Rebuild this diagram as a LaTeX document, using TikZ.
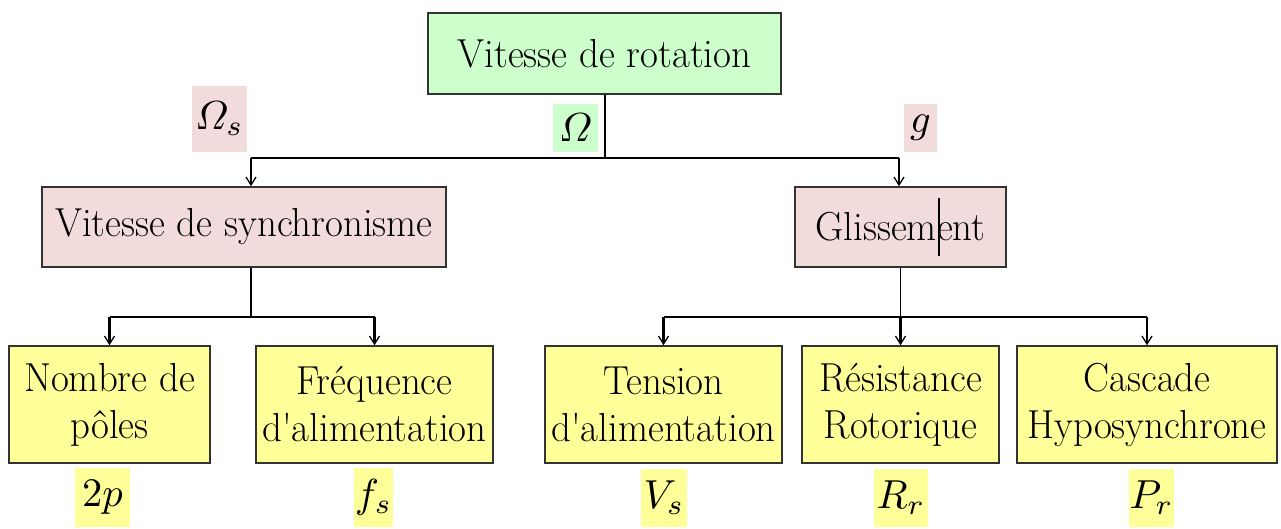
\documentclass[tikz,border=0pt]{standalone}
\usepackage{amsmath}
\usepackage{fontspec}
\usetikzlibrary{arrows.meta}
\definecolor{cgreen}{HTML}{CCFFCC}
\definecolor{cpink}{HTML}{F2DCDB}
\definecolor{cyellow}{HTML}{FFFF99}
\definecolor{cborder}{HTML}{333333}
\newcommand\nx[1]{\scalebox{0.96}[1]{#1}}
\newcommand\mlab[1]{\scalebox{4.05}{$#1$}}
\begin{document}
\begin{tikzpicture}[x=1pt,y=-1pt,
  box/.style={draw=cborder,line width=1.5pt,inner sep=0pt,align=center,
    font=\fontsize{40.5}{47}\selectfont},
  lbl/.style={inner sep=0pt},
  conn/.style={line width=1.4pt,black},
  arr/.style={line width=2.2pt,black,-{Straight Barb[length=8pt,width=10pt,line width=1.3pt]}}]
\useasboundingbox (0,0) rectangle (1281,529);
% boxes
\node[box,fill=cgreen,minimum width=353pt,minimum height=81pt] (top) at (604.5,53.5) {\nx{Vitesse de rotation}};
\node[box,fill=cpink,minimum width=404pt,minimum height=80pt] (vds) at (244,227) {\nx{Vitesse de synchronisme}};
\node[box,fill=cpink,minimum width=211pt,minimum height=80pt] (gl) at (900.5,227) {\nx{Glissement}};
\node[box,fill=cyellow,minimum width=201pt,minimum height=117pt] (nb) at (109.5,404.5) {\nx{Nombre de}\\\nx{pôles}};
\node[box,fill=cyellow,minimum width=237pt,minimum height=117pt] (fr) at (374.5,404.5) {\nx{Fréquence}\\\nx{d\textquotesingle alimentation}};
\node[box,fill=cyellow,minimum width=237pt,minimum height=117pt] (te) at (663.5,404.5) {\nx{Tension}\\\nx{d\textquotesingle alimentation}};
\node[box,fill=cyellow,minimum width=197pt,minimum height=117pt] (re) at (900.5,404.5) {\nx{Résistance}\\\nx{Rotorique}};
\node[box,fill=cyellow,minimum width=260pt,minimum height=117pt] (ca) at (1147,404.5) {\nx{Cascade}\\\nx{Hyposynchrone}};
% cursor mark
\draw[line width=1.2pt,black] (939,198) -- (939,256);
% labels
\node[lbl,fill=cpink,minimum width=55pt,minimum height=66pt] (lOs) at (219.5,119) {\mlab{\varOmega_{s}}};
\node[lbl,fill=cgreen,minimum width=45pt,minimum height=48pt] (lO) at (575.5,128) {\mlab{\varOmega}};
\node[lbl,fill=cpink,minimum width=33pt,minimum height=48pt] (lg) at (920.5,128) {\mlab{g}};
\node[lbl,fill=cyellow,minimum width=55pt,minimum height=59pt] (l2p) at (102.5,497.5) {\mlab{2p}};
\node[lbl,fill=cyellow,minimum width=39pt,minimum height=59pt] (lfs) at (373.5,497.5) {\mlab{f_{s}}};
\node[lbl,fill=cyellow,minimum width=46pt,minimum height=58pt] (lVs) at (664,498) {\mlab{V_{s}}};
\node[lbl,fill=cyellow,minimum width=54pt,minimum height=58pt] (lRr) at (901,498) {\mlab{R_{r}}};
\node[lbl,fill=cyellow,minimum width=45pt,minimum height=58pt] (lPr) at (1151.5,498) {\mlab{P_{r}}};
% connectors
\coordinate (j1) at (605,158);
\coordinate (j1l) at (251,158);
\coordinate (j1r) at (899,158);
\draw[conn] (top.south -| j1) -- (j1);
\draw[conn] (j1l) -- (j1r);
\draw[arr] (j1l) -- (j1l |- vds.north);
\draw[arr] (j1r) -- (j1r |- gl.north);
\coordinate (j2) at (251,317);
\coordinate (j2l) at (nb.north |- j2);
\coordinate (j2r) at (fr.north |- j2);
\draw[conn] (vds.south -| j2) -- (j2);
\draw[conn] (j2l) -- (j2r);
\draw[arr] (j2l) -- (nb.north);
\draw[arr] (j2r) -- (fr.north);
\coordinate (j3) at (gl.south |- j2);
\coordinate (j3l) at (te.north |- j2);
\coordinate (j3r) at (ca.north |- j2);
\draw[conn] (gl.south) -- (j3);
\draw[conn] (j3l) -- (j3r);
\draw[arr] (j3l) -- (te.north);
\draw[arr] (j3) -- (re.north);
\draw[arr] (j3r) -- (ca.north);
\end{tikzpicture}
\end{document}
